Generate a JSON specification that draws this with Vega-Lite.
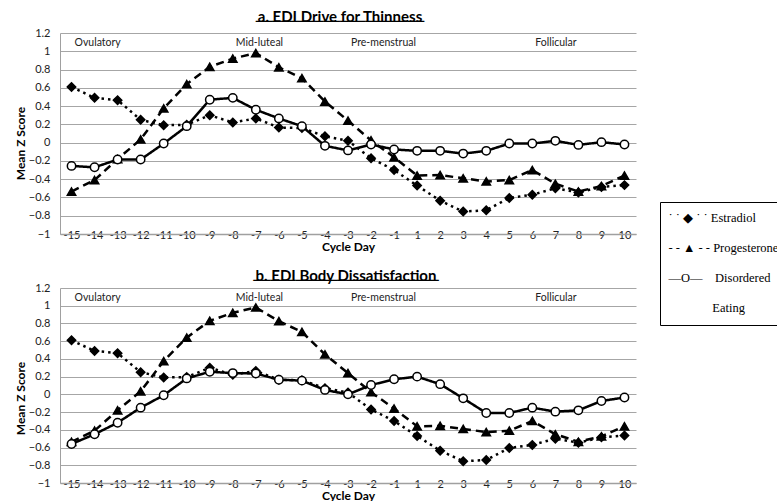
{
  "$schema": "https://vega.github.io/schema/vega-lite/v6.json",
  "autosize": {"type": "pad"},
  "padding": {"left": 14, "top": 10, "right": 0, "bottom": 0},
  "background": "white",
  "datasets": {
    "wide": [
      {"day": -15, "Estradiol": 0.61, "Progesterone": -0.535, "DE_a": -0.255, "DE_b": -0.56},
      {"day": -14, "Estradiol": 0.49, "Progesterone": -0.41, "DE_a": -0.27, "DE_b": -0.45},
      {"day": -13, "Estradiol": 0.465, "Progesterone": -0.18, "DE_a": -0.185, "DE_b": -0.32},
      {"day": -12, "Estradiol": 0.25, "Progesterone": 0.035, "DE_a": -0.185, "DE_b": -0.15},
      {"day": -11, "Estradiol": 0.19, "Progesterone": 0.375, "DE_a": -0.01, "DE_b": -0.01},
      {"day": -10, "Estradiol": 0.195, "Progesterone": 0.64, "DE_a": 0.18, "DE_b": 0.18},
      {"day": -9, "Estradiol": 0.3, "Progesterone": 0.83, "DE_a": 0.47, "DE_b": 0.255},
      {"day": -8, "Estradiol": 0.22, "Progesterone": 0.92, "DE_a": 0.49, "DE_b": 0.24},
      {"day": -7, "Estradiol": 0.265, "Progesterone": 0.98, "DE_a": 0.36, "DE_b": 0.235},
      {"day": -6, "Estradiol": 0.165, "Progesterone": 0.825, "DE_a": 0.265, "DE_b": 0.165},
      {"day": -5, "Estradiol": 0.16, "Progesterone": 0.705, "DE_a": 0.18, "DE_b": 0.155},
      {"day": -4, "Estradiol": 0.07, "Progesterone": 0.45, "DE_a": -0.035, "DE_b": 0.05},
      {"day": -3, "Estradiol": 0.02, "Progesterone": 0.24, "DE_a": -0.085, "DE_b": 0.0},
      {"day": -2, "Estradiol": -0.17, "Progesterone": 0.025, "DE_a": -0.02, "DE_b": 0.105},
      {"day": -1, "Estradiol": -0.3, "Progesterone": -0.16, "DE_a": -0.075, "DE_b": 0.17},
      {"day": 1, "Estradiol": -0.47, "Progesterone": -0.36, "DE_a": -0.09, "DE_b": 0.2},
      {"day": 2, "Estradiol": -0.635, "Progesterone": -0.355, "DE_a": -0.09, "DE_b": 0.115},
      {"day": 3, "Estradiol": -0.755, "Progesterone": -0.39, "DE_a": -0.12, "DE_b": -0.045},
      {"day": 4, "Estradiol": -0.74, "Progesterone": -0.425, "DE_a": -0.09, "DE_b": -0.21},
      {"day": 5, "Estradiol": -0.605, "Progesterone": -0.41, "DE_a": -0.01, "DE_b": -0.21},
      {"day": 6, "Estradiol": -0.57, "Progesterone": -0.3, "DE_a": -0.01, "DE_b": -0.15},
      {"day": 7, "Estradiol": -0.5, "Progesterone": -0.45, "DE_a": 0.02, "DE_b": -0.195},
      {"day": 8, "Estradiol": -0.545, "Progesterone": -0.535, "DE_a": -0.025, "DE_b": -0.18},
      {"day": 9, "Estradiol": -0.485, "Progesterone": -0.475, "DE_a": 0.005, "DE_b": -0.075},
      {"day": 10, "Estradiol": -0.465, "Progesterone": -0.36, "DE_a": -0.02, "DE_b": -0.035}
    ],
    "phases": [
      {"day": -15, "label": "Ovulatory"},
      {"day": -8, "label": "Mid-luteal"},
      {"day": -3, "label": "Pre-menstrual"},
      {"day": 6, "label": "Follicular"}
    ]
  },
  "spacing": 54,
  "bounds": "flush",
  "resolve": {
    "scale": {"strokeDash": "independent", "shape": "independent", "fill": "independent"},
    "legend": {"strokeDash": "independent"}
  },
  "vconcat": [
    {
      "title": {"text": "a. EDI Drive for Thinness", "subtitle": "────────────────────", "offset": -2, "dx": -8},
      "width": 576,
      "height": 201,
      "data": {"name": "wide"},
      "layer": [
        {
          "transform": [{"fold": ["Estradiol", "Progesterone", "DE_a"], "as": ["series", "z"]}],
          "mark": {"type": "line", "color": "black", "strokeWidth": 2.5, "strokeCap": "butt"},
          "encoding": {
            "x": {"field": "day", "type": "ordinal", "scale": {"type": "point", "padding": 0.5, "domain": [-15,-14,-13,-12,-11,-10,-9,-8,-7,-6,-5,-4,-3,-2,-1,1,2,3,4,5,6,7,8,9,10]}, "axis": {"title": "Cycle Day"}},
            "y": {"field": "z", "type": "quantitative", "scale": {"domain": [-1, 1.2], "nice": false, "zero": false}, "axis": {"title": "Mean Z Score", "values": [-1, -0.8, -0.6, -0.4, -0.2, 0, 0.2, 0.4, 0.6, 0.8, 1, 1.2], "tickCount": 12, "format": ".1~f"}},
            "strokeDash": {
              "field": "series", "type": "nominal",
              "scale": {"domain": ["Estradiol", "Progesterone", "DE_a", "DE_a_wrap"], "range": [[2.5, 4], [8, 5], [1, 0], [1, 0]]},
              "legend": {
                "orient": "none", "legendX": 600, "legendY": 169, "title": null,
                "symbolSize": 0, "symbolOpacity": 0, "symbolStrokeWidth": 0,
                "labelFont": "Liberation Serif", "labelFontSize": 12.5, "labelColor": "black",
                "labelLimit": 0, "labelOffset": -14,
                "labelExpr": "datum.value == 'Estradiol' ? '˙ ˙ ◆ ˙ ˙ Estradiol' : datum.value == 'Progesterone' ? '- - ▲ - - Progesterone' : datum.value == 'DE_a' ? '—O—\u00a0\u00a0\u00a0 Disordered' : '\u200b\u00a0\u00a0\u00a0\u00a0\u00a0\u00a0\u00a0\u00a0\u00a0\u00a0\u00a0\u00a0\u00a0\u00a0Eating'",
                "strokeColor": "black", "fillColor": "white", "padding": 10, "rowPadding": 17
              }
            }
          }
        },
        {
          "transform": [{"fold": ["Estradiol", "Progesterone", "DE_a"], "as": ["series", "z"]}],
          "mark": {"type": "point", "filled": true, "stroke": "black", "strokeWidth": 1.5, "opacity": 1, "size": 70},
          "encoding": {
            "x": {"field": "day", "type": "ordinal"},
            "y": {"field": "z", "type": "quantitative"},
            "shape": {"field": "series", "type": "nominal", "scale": {"domain": ["Estradiol", "Progesterone", "DE_a"], "range": ["diamond", "triangle-up", "circle"]}, "legend": null},
            "fill": {"field": "series", "type": "nominal", "scale": {"domain": ["Estradiol", "Progesterone", "DE_a"], "range": ["black", "black", "white"]}, "legend": null}
          }
        },
        {
          "data": {"name": "phases"},
          "mark": {"type": "text", "align": "left", "dx": 3, "font": "Lato", "fontSize": 10.5, "color": "#222"},
          "encoding": {
            "x": {"field": "day", "type": "ordinal"},
            "y": {"datum": 1.09},
            "text": {"field": "label"}
          }
        }
      ]
    },
    {
      "title": {"text": "b. EDI Body Dissatisfaction", "subtitle": "──────────────────────", "offset": -6, "dx": -2},
      "width": 576,
      "height": 195,
      "data": {"name": "wide"},
      "layer": [
        {
          "transform": [{"fold": ["Estradiol", "Progesterone", "DE_b"], "as": ["series", "z"]}],
          "mark": {"type": "line", "color": "black", "strokeWidth": 2.5, "strokeCap": "butt"},
          "encoding": {
            "x": {"field": "day", "type": "ordinal", "scale": {"type": "point", "padding": 0.5, "domain": [-15,-14,-13,-12,-11,-10,-9,-8,-7,-6,-5,-4,-3,-2,-1,1,2,3,4,5,6,7,8,9,10]}, "axis": {"title": "Cycle Day"}},
            "y": {"field": "z", "type": "quantitative", "scale": {"domain": [-1, 1.2], "nice": false, "zero": false}, "axis": {"title": "Mean Z Score", "values": [-1, -0.8, -0.6, -0.4, -0.2, 0, 0.2, 0.4, 0.6, 0.8, 1, 1.2], "tickCount": 12, "format": ".1~f"}},
            "strokeDash": {
              "field": "series", "type": "nominal",
              "scale": {"domain": ["Estradiol", "Progesterone", "DE_b"], "range": [[2.5, 4], [8, 5], [1, 0]]},
              "legend": null
            }
          }
        },
        {
          "transform": [{"fold": ["Estradiol", "Progesterone", "DE_b"], "as": ["series", "z"]}],
          "mark": {"type": "point", "filled": true, "stroke": "black", "strokeWidth": 1.5, "opacity": 1, "size": 70},
          "encoding": {
            "x": {"field": "day", "type": "ordinal"},
            "y": {"field": "z", "type": "quantitative"},
            "shape": {"field": "series", "type": "nominal", "scale": {"domain": ["Estradiol", "Progesterone", "DE_b"], "range": ["diamond", "triangle-up", "circle"]}, "legend": null},
            "fill": {"field": "series", "type": "nominal", "scale": {"domain": ["Estradiol", "Progesterone", "DE_b"], "range": ["black", "black", "white"]}, "legend": null}
          }
        },
        {
          "data": {"name": "phases"},
          "mark": {"type": "text", "align": "left", "dx": 3, "font": "Lato", "fontSize": 10.5, "color": "#222"},
          "encoding": {
            "x": {"field": "day", "type": "ordinal"},
            "y": {"datum": 1.09},
            "text": {"field": "label"}
          }
        }
      ]
    }
  ],
  "config": {
    "view": {"stroke": null},
    "title": {
      "font": "Lato", "fontSize": 15, "fontWeight": "bold", "color": "black", "anchor": "middle",
      "subtitleFont": "DejaVu Sans", "subtitleFontSize": 14, "subtitleColor": "black",
      "subtitlePadding": -10
    },
    "axis": {
      "labelFont": "Lato", "labelFontSize": 11, "labelColor": "#222",
      "titleFont": "Lato", "titleFontSize": 12, "titleFontWeight": "bold", "titleColor": "black",
      "domainColor": "#a0a0a0", "gridColor": "#a6a6a6", "tickColor": "#a0a0a0"
    },
    "axisX": {"labelAngle": 0, "ticks": false, "labelPadding": 1, "labelBaseline": "middle", "grid": false, "titlePadding": 1, "domainWidth": 1.5},
    "axisY": {"ticks": false, "labelPadding": 10, "labelOverlap": false, "grid": true, "titleX": -33, "titleY": 110, "titleBaseline": "bottom", "domain": true, "domainWidth": 1}
  }
}
